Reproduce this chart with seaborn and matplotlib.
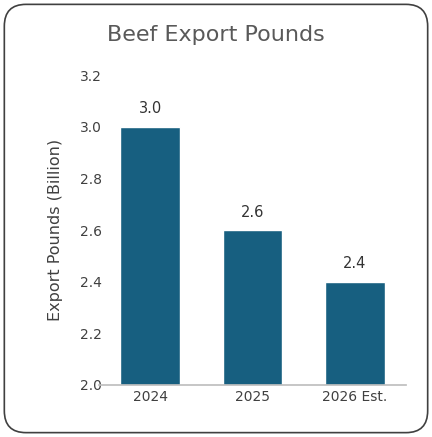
import matplotlib
matplotlib.use("Agg")
import matplotlib.pyplot as plt
from matplotlib.patches import FancyBboxPatch
import seaborn as sns
import pandas as pd

# DATA -----
years = ["2024", "2025", "2026 Est."]
pounds = [3.0, 2.6, 2.4]
df = pd.DataFrame({"year": years, "pounds": pounds})

# PLOTTING -----
sns.set_theme(style="white")
plt.rcParams["font.family"] = ["DejaVu Sans"]

fig = plt.figure(figsize=(4.32, 4.37), dpi=100)
ax = fig.add_axes([0.229, 0.119, 0.711, 0.709])

sns.barplot(data=df, x="year", y="pounds", color="#175f80", saturation=1,
            width=0.585, ax=ax)

for i, v in enumerate(pounds):
    ax.text(i, v + 0.04, f"{v:.1f}", ha="center", va="bottom",
            fontsize=10.5, color="#333333")

ax.set_ylim(2.0, 3.2)
ax.set_yticks([2.0, 2.2, 2.4, 2.6, 2.8, 3.0, 3.2])
ax.set_xlabel("")
ax.set_ylabel("Export Pounds (Billion)", fontsize=11.5, color="#404040",
              labelpad=12)
ax.tick_params(axis="both", labelsize=10, colors="#404040", length=0)
ax.tick_params(axis="y", pad=-2)
for s in ["top", "right", "left"]:
    ax.spines[s].set_visible(False)
ax.spines["bottom"].set_color("#bfbfbf")

fig.text(0.5, 0.92, "Beef Export Pounds", ha="center", va="center",
         fontsize=16, color="#595959")

border = FancyBboxPatch((0.01, 0.01), 0.98, 0.98,
                        boxstyle="round,pad=0,rounding_size=0.05",
                        transform=fig.transFigure, fill=False,
                        edgecolor="#404040", linewidth=1.2)
fig.patches.append(border)

fig.savefig("out.png", dpi=100)
